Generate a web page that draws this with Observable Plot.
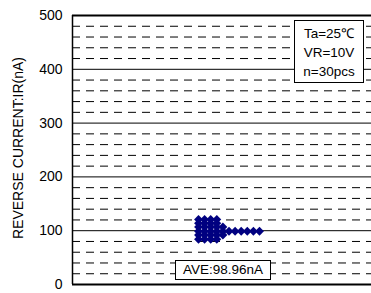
<!DOCTYPE html>
<html>
<head>
<meta charset="utf-8">
<script src="https://cdn.jsdelivr.net/npm/d3@7"></script>
<script src="https://cdn.jsdelivr.net/npm/@observablehq/plot@0.6"></script>
<style>
  body { margin: 0; background: #fff; }
  #wrap { position: relative; width: 371px; height: 293px; font-family: "Liberation Sans", Arial, sans-serif; }
  .box { position: absolute; background: #fff; border: 1px solid #000; box-sizing: border-box; font-size: 13.5px; color: #000; text-align: center; }
</style>
</head>
<body>
<div id="wrap"></div>
<script>
// Data
const rowValues = [121, 114, 107, 99, 92, 84];   // nA, one row of stacked dots per value
const rowCounts = [4, 4, 5, 11, 5, 4];            // number of dots in each row
const yTicks = [0, 100, 200, 300, 400, 500];
const conditions = ["Ta=25\u2103", "VR=10V", "n=30pcs"];
const average = "AVE:98.96nA";
const yLabel = "REVERSE CURRENT:IR(nA)";

// stacked dot layout (column index within a row)
const colStart = 126, colStep = 6.1;
const dots = [];
rowValues.forEach((v, r) => {
  for (let i = 0; i < rowCounts[r]; i++) dots.push({x: colStart + i * colStep, y: v});
});
const dashed = d3.range(20, 500, 20).filter(v => v % 100 !== 0);
const solid = [100, 200, 300, 400];

const chart = Plot.plot({
  width: 371,
  height: 293,
  marginLeft: 72,
  marginRight: 0,
  marginTop: 15,
  marginBottom: 9,
  style: {fontFamily: "'Liberation Sans', Arial, sans-serif", fontSize: "14px", background: "#fff", color: "#000"},
  x: {domain: [0, 299], axis: null},
  y: {domain: [0, 500], ticks: yTicks, tickSize: 0, tickPadding: 10, label: null, tickFormat: d => String(d)},
  marks: [
    Plot.ruleY(dashed, {stroke: "#000", strokeWidth: 1, strokeDasharray: "8,6"}),
    Plot.ruleY(solid, {stroke: "#000", strokeWidth: 1}),
    Plot.ruleY([0, 500], {stroke: "#000", strokeWidth: 2}),
    Plot.ruleX([0], {stroke: "#000", strokeWidth: 1.5}),
    Plot.dot(dots, {x: "x", y: "y", symbol: "diamond2", r: 4, fill: "#000080", stroke: "none"})
  ]
});
const wrap = document.getElementById("wrap");
wrap.appendChild(chart);

// y-axis title
const svg = d3.select(chart);
svg.append("text")
  .attr("transform", "translate(19,148) rotate(-90)")
  .attr("text-anchor", "middle")
  .attr("dominant-baseline", "middle")
  .attr("font-size", 14)
  .attr("fill", "#000")
  .text(yLabel);

// condition box
const cb = document.createElement("div");
cb.className = "box";
Object.assign(cb.style, {left: "294px", top: "20px", width: "70px", height: "63px", lineHeight: "19px", paddingTop: "3px"});
cb.innerHTML = conditions.map(t => `<div>${t}</div>`).join("");
wrap.appendChild(cb);

// average box
const ab = document.createElement("div");
ab.className = "box";
Object.assign(ab.style, {left: "175px", top: "260px", width: "96px", height: "20px", lineHeight: "18px"});
ab.textContent = average;
wrap.appendChild(ab);
</script>
</body>
</html>
